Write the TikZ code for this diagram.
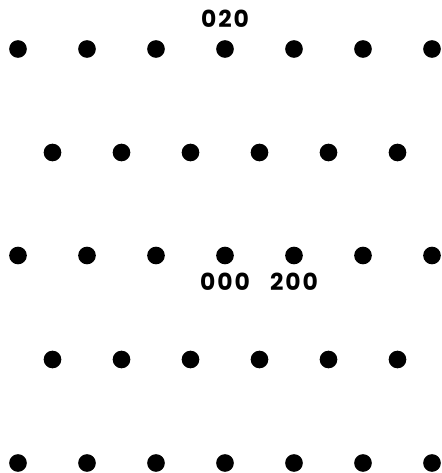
\documentclass[tikz,border=0pt]{standalone}
\usepackage{fontspec}
\usepackage{tikz}
\usetikzlibrary{positioning}
\setmainfont{Poppins}

\begin{document}
\begin{tikzpicture}[
  x=0.03cm, y=0.03cm,
  spot/.style={circle, fill=black, inner sep=0pt, minimum size=0.53cm},
  idx/.style={inner sep=0pt, font=\fontsize{20}{20}\selectfont\bfseries\addfontfeature{LetterSpace=8}}
]
  \useasboundingbox (0,0) rectangle (441,473);

  % rows with seven spots
  \foreach \r/\y in {1/424, 3/217.5, 5/10}
    \foreach \c in {1,...,7}
      \node[spot] (d\r\c) at ({18+69*(\c-1)}, \y) {};

  % rows with six spots
  \foreach \r/\y in {2/320.5, 4/113.5}
    \foreach \c in {1,...,6}
      \node[spot] (d\r\c) at ({52.5+69*(\c-1)}, \y) {};

  % reflection indices
  \node[idx, above=0.37cm of d14] (i020) {020};
  \node[idx, below=0.25cm of d34] (i000) {000};
  \node[idx, below=0.25cm of d35] (i200) {200};
\end{tikzpicture}
\end{document}
